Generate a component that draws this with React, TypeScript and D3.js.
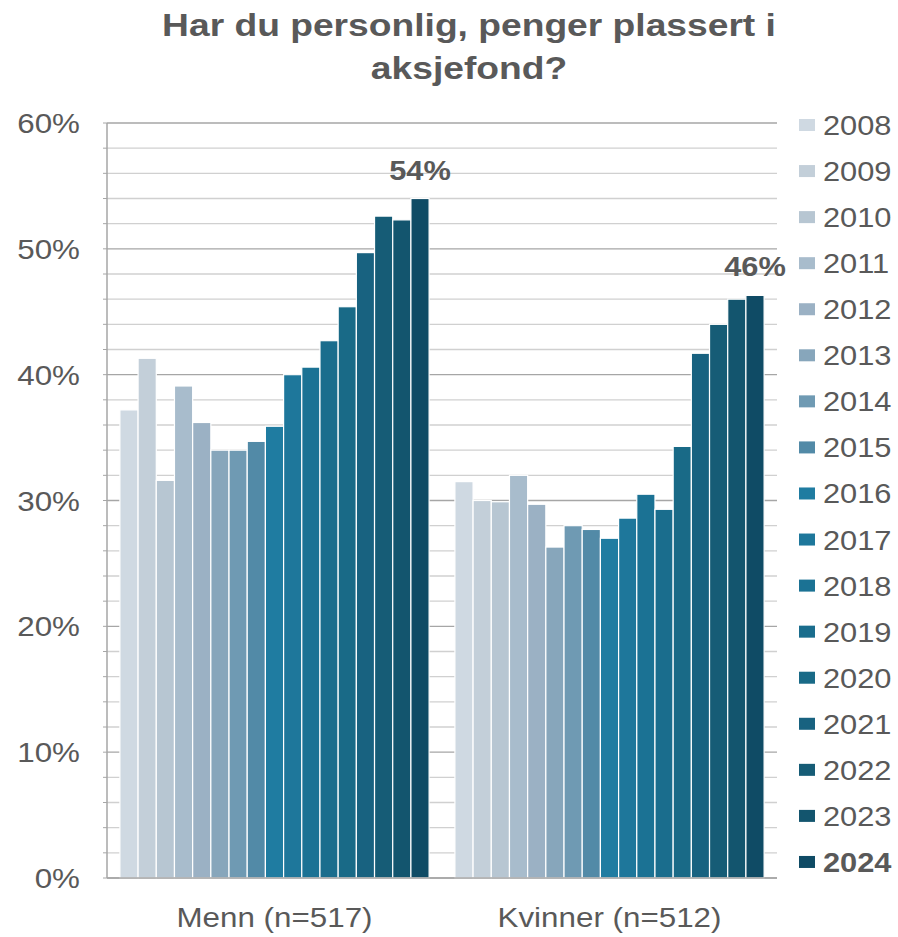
import React from "react";
import * as d3 from "d3";

const groups = ["Menn (n=517)", "Kvinner (n=512)"];
const years = ["2008","2009","2010","2011","2012","2013","2014","2015","2016","2017","2018","2019","2020","2021","2022","2023","2024"];
const menn = [37.2, 41.3, 31.6, 39.1, 36.2, 34.0, 34.0, 34.7, 35.9, 40.0, 40.6, 42.7, 45.4, 49.7, 52.6, 52.3, 54.0];
const kvinner = [31.5, 30.0, 29.9, 32.0, 29.7, 26.3, 28.0, 27.7, 27.0, 28.6, 30.5, 29.3, 34.3, 41.7, 44.0, 46.0, 46.3];
const colors = ["#cfd9e2","#c3cfd9","#b7c6d2","#a8bccc","#9bb1c4","#87a6bb","#6f9ab3","#528aa7","#1f7ca1","#1e779b","#1b7294","#1a6d8d","#196a87","#186280","#165c76","#13556e","#0f4b65"];
const yTicks = [0, 10, 20, 30, 40, 50, 60];
const labels = [{ g: 0, text: "54%" }, { g: 1, text: "46%" }];

const SX = 1.12;
const TXT = "#595959";

function T({ x, y, anchor = "start", size = 28, weight = "normal", children, sx = SX }: any) {
  return (
    <text
      transform={`translate(${x},${y}) scale(${sx},1)`}
      textAnchor={anchor}
      fontSize={size}
      fontWeight={weight}
      fontFamily="'Liberation Sans', Arial, sans-serif"
      fill={TXT}
    >
      {children}
    </text>
  );
}

export default function App() {
  const data = [menn, kvinner];
  const left = 107, right = 777, top = 123, bottom = 878;
  const y = d3.scaleLinear().domain([0, 60]).range([bottom, top]);
  const x0 = d3.scaleBand().domain(groups).range([left, right]).paddingInner(0.077).paddingOuter(0.0385);
  const x1 = d3.scaleBand().domain(years).range([0, x0.bandwidth()]).padding(0);
  const minor = d3.range(0, 61, 2);
  return (
    <svg width={898} height={937} style={{ position: "absolute", left: 0, top: 0, background: "#fff" }}>
      <T x={469} y={36} anchor="middle" size={31} weight="bold" sx={1.2}>Har du personlig, penger plassert i</T>
      <T x={469} y={79} anchor="middle" size={31} weight="bold" sx={1.2}>aksjefond?</T>
      {minor.map((v) => (
        <g key={v}>
          <line x1={left} x2={right} y1={y(v)} y2={y(v)} stroke={v % 10 === 0 ? "#a6a6a6" : "#d0d0d0"} strokeWidth={1.3} />
          <line x1={left - 4} x2={left} y1={y(v)} y2={y(v)} stroke="#a6a6a6" strokeWidth={1} />
        </g>
      ))}
      {yTicks.map((v) => (
        <T key={v} x={80} y={y(v) + 10} anchor="end" size={28}>{v}%</T>
      ))}
      {groups.map((g, gi) => (
        <g key={g} transform={`translate(${x0(g)},0)`}>
          {years.map((yr, i) => (
            <rect
              key={yr}
              x={x1(yr)}
              y={y(data[gi][i])}
              width={x1.bandwidth()}
              height={bottom - y(data[gi][i])}
              fill={colors[i]}
              stroke="#ffffff"
              strokeWidth={1.2}
            />
          ))}
        </g>
      ))}
      <line x1={left} x2={left} y1={top} y2={bottom} stroke="#a6a6a6" strokeWidth={1.5} />
      <line x1={left} x2={right} y1={bottom} y2={bottom} stroke="#a6a6a6" strokeWidth={1.5} />
      {labels.map((l) => {
        const g = groups[l.g];
        const last = years.length - 1;
        const cx = (x0(g) as number) + (x1(years[last]) as number) + x1.bandwidth() / 2;
        return (
          <T key={l.text} x={cx} y={y(data[l.g][last]) - 19} anchor="middle" size={28} weight="bold" sx={1.1}>{l.text}</T>
        );
      })}
      {groups.map((g) => (
        <T key={g} x={(x0(g) as number) + x0.bandwidth() / 2} y={927} anchor="middle" size={28}>{g}</T>
      ))}
      {years.map((yr, i) => {
        const cy = 125 + i * 46.06;
        return (
          <g key={yr}>
            <rect x={799} y={cy - 6} width={16} height={12} fill={colors[i]} />
            <T x={823} y={cy + 10} size={28} weight={yr === "2024" ? "bold" : "normal"} sx={1.1}>{yr}</T>
          </g>
        );
      })}
    </svg>
  );
}
